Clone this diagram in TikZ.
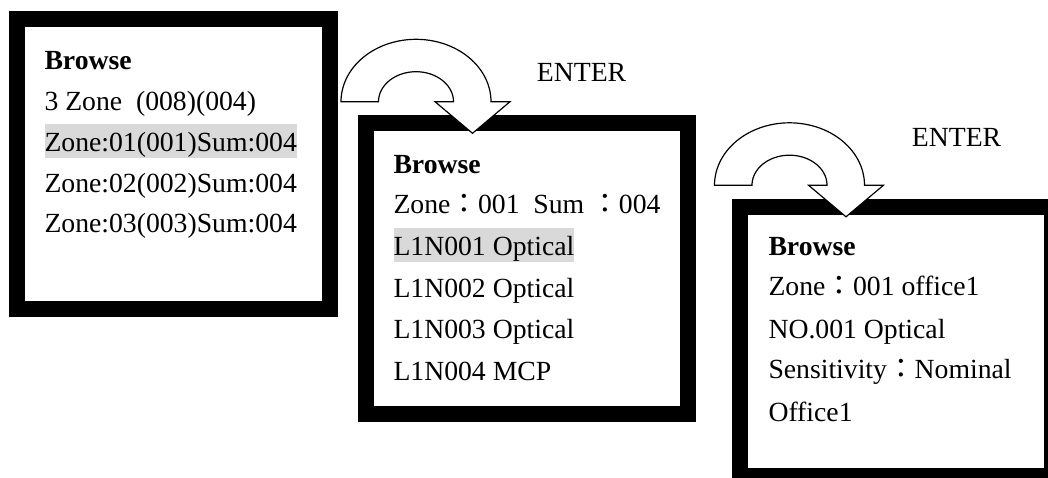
\documentclass[tikz,border=0pt]{standalone}
\usepackage{fontspec}
\setmainfont{Liberation Serif}
\newfontfamily\cjk{Noto Sans CJK TC}
\usetikzlibrary{calc}

\definecolor{selgray}{RGB}{217,217,217}
% full-width colon of the panel texts
\newcommand{\fcolon}{{\cjk ：}}

\begin{document}
\begin{tikzpicture}[x=1pt, y=-1pt,
    screen/.style={draw, line width=16pt, inner sep=0pt},
    row/.style={anchor=base west, inner sep=0pt, font=\fontsize{27.7}{33}\selectfont},
    sel/.style={row, fill=selgray, text height=27pt, text depth=7pt},
    turn/.style={draw, fill=white, line width=1.2pt, line join=miter}]

        \clip (0,0) rectangle (1048,477);

        % --- SCREENS ---
        \node[screen, minimum width=312.5pt, minimum height=289.5pt] (scrA) at (173.3,163.8) {};
        \node[screen, minimum width=321.5pt, minimum height=290.7pt] (scrB) at (526.8,268.7) {};
        \node[screen, minimum width=311.5pt, minimum height=269.3pt] (scrC) at (895.8,341.4) {};

        % --- ENTER ARROWS ---
        % outer arc 75 x 62.4, inner arc 37.5 x 30, head 75 wide
        \begin{scope}[shift={(416,101.7)}]
            \draw[turn] plot[domain=180:0, samples=61] ({75*cos(\x)},{-62.4*sin(\x)})
                -- (94,0) -- (56.5,31.6) -- (19,0) -- (37.5,0)
                -- plot[domain=0:180, samples=61] ({37.5*cos(\x)},{-30*sin(\x)}) -- cycle;
        \end{scope}
        \begin{scope}[shift={(789.5,185.2)}]
            \draw[turn] plot[domain=180:0, samples=61] ({75*cos(\x)},{-62.4*sin(\x)})
                -- (94,0) -- (56.5,31.6) -- (19,0) -- (37.5,0)
                -- plot[domain=0:180, samples=61] ({37.5*cos(\x)},{-30*sin(\x)}) -- cycle;
        \end{scope}
        \node[row] (enterA) at (536.7,81.7) {ENTER};
        \node[row] (enterB) at (911.7,146.7) {ENTER};

        % --- SCREEN 1: zone list ---
        \node[row] (A0) at (44.3,69) {\bfseries Browse};
        \node[row] (A1) at (44.3,110) {3 Zone\ \ (008)(004)};
        \node[sel] (A2) at (44.3,151) {Zone:01(001)Sum:004};
        \node[row] (A3) at (44.3,192) {Zone:02(002)Sum:004};
        \node[row] (A4) at (44.3,232) {Zone:03(003)Sum:004};

        % --- SCREEN 2: devices of the zone ---
        \node[row] (B0) at (393.3,173) {\bfseries Browse};
        \node[row] (B1) at (393.3,213) {Zone\fcolon001\ \ Sum \fcolon004};
        \node[sel] (B2) at (393.3,255) {L1N001 Optical};
        \node[row] (B3) at (393.3,297) {L1N002 Optical};
        \node[row] (B4) at (393.3,338) {L1N003 Optical};
        \node[row] (B5) at (393.3,380) {L1N004 MCP};

        % --- SCREEN 3: one device ---
        \node[row] (C0) at (768.3,255) {\bfseries Browse};
        \node[row] (C1) at (768.3,295) {Zone\fcolon001 office1};
        \node[row] (C2) at (768.3,338) {NO.001 Optical};
        \node[row] (C3) at (768.3,378) {Sensitivity\fcolon Nominal};
        \node[row] (C4) at (768.3,421.7) {Office1};
\end{tikzpicture}
\end{document}
